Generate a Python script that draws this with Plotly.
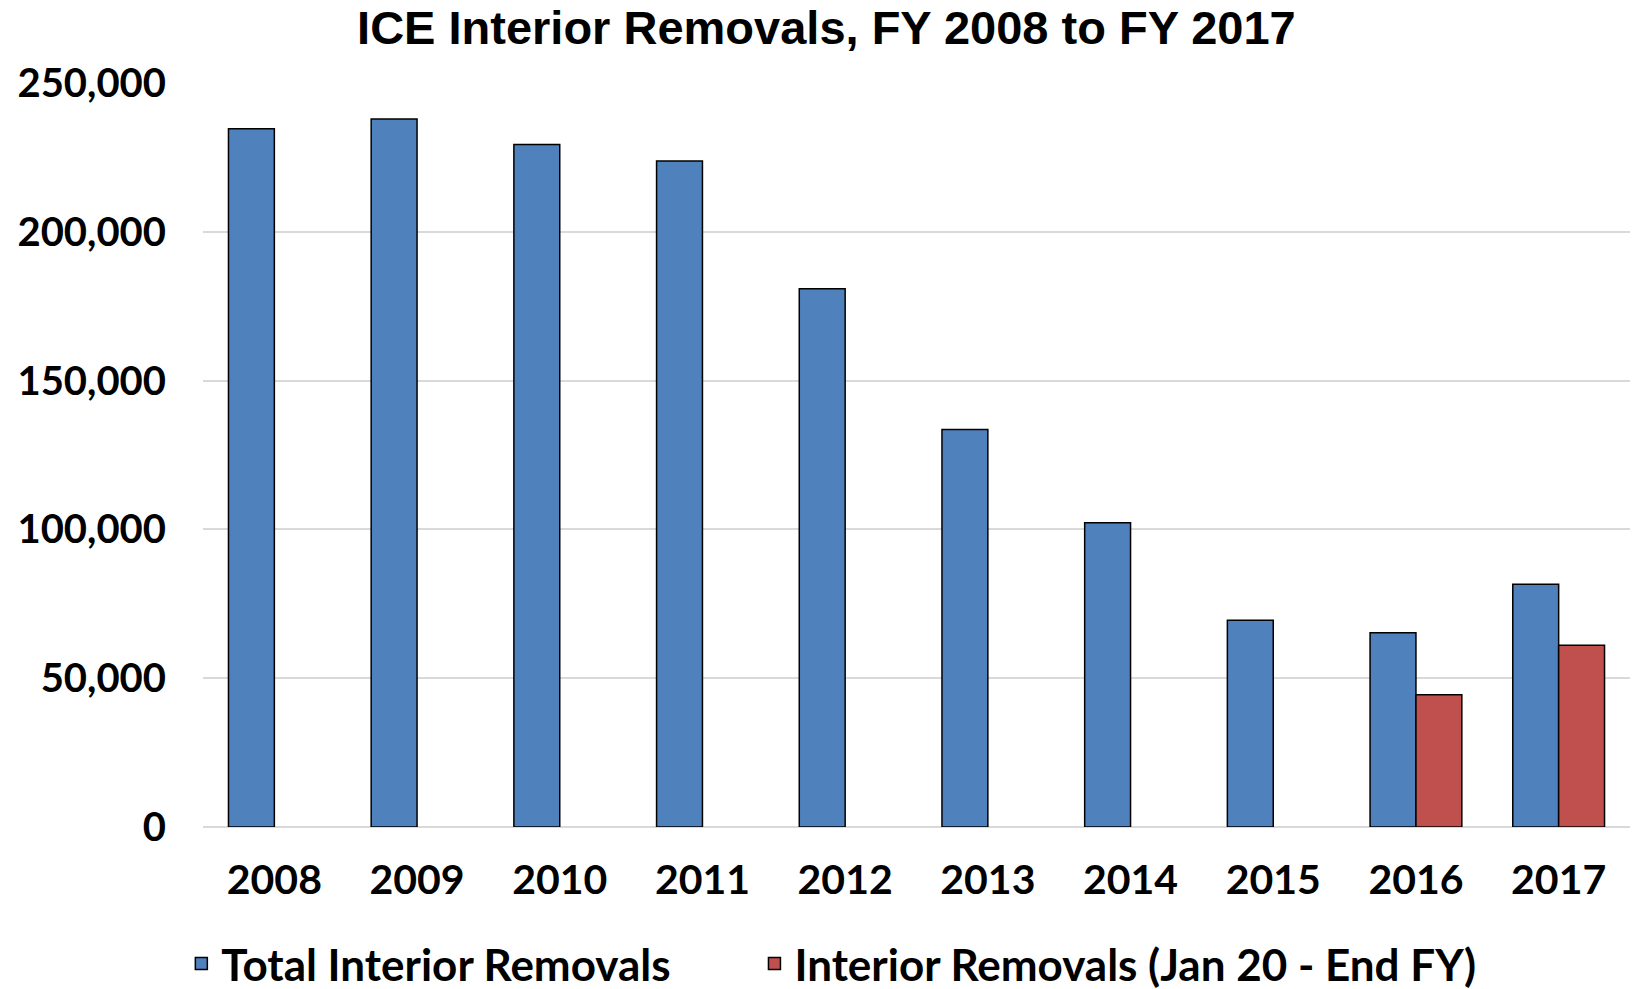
import plotly.graph_objects as go

years = ["2008", "2009", "2010", "2011", "2012", "2013", "2014", "2015", "2016", "2017"]
total_removals = [234600, 237900, 229300, 223800, 180900, 133600, 102200, 69500, 65300, 81600]
jan20_removals = [None, None, None, None, None, None, None, None, 44400, 61100]
y_ticks = [0, 50000, 100000, 150000, 200000, 250000]
y_tick_text = ["0", "50,000", "100,000", "150,000", "200,000", "250,000"]

FONT = "Lato"
TITLE_FONT = "Liberation Sans"
NB = "\u00a0"

fig = go.Figure()
fig.add_trace(go.Bar(
    x=years, y=total_removals, name="<b>Total Interior Removals</b>" + NB * 7,
    marker=dict(color="#4F81BD", line=dict(color="#000000", width=1.5)),
))
fig.add_trace(go.Bar(
    x=years, y=jan20_removals, name="<b>Interior Removals (Jan 20 - End FY)</b>",
    marker=dict(color="#C0504D", line=dict(color="#000000", width=1.5)),
))

fig.update_layout(
    width=1632, height=989,
    paper_bgcolor="white", plot_bgcolor="white",
    barmode="group", bargap=0.357, bargroupgap=0,
    margin=dict(l=203, r=2, t=83, b=162, autoexpand=False),
    title=dict(text="<b>ICE Interior Removals, FY 2008 to FY 2017</b>",
               x=0.5064, xref="container", xanchor="center",
               y=0.9883, yref="container", yanchor="top",
               font=dict(family=TITLE_FONT, size=47, color="black")),
    font=dict(family=FONT, color="black"),
    showlegend=True,
    legend=dict(orientation="h", xref="container", yref="paper",
                x=0.5094, xanchor="center", y=-0.184, yanchor="middle",
                font=dict(family=FONT, size=44, color="black"),
                itemwidth=30, traceorder="normal"),
    xaxis=dict(type="category", showgrid=False, showline=False, zeroline=False,
               tickfont=dict(family=FONT, size=41, color="black"),
               ticklabelstandoff=25, tickprefix="<b>", ticksuffix="</b>"),
    yaxis=dict(range=[0, 250000], tickvals=y_ticks,
               ticktext=["<b>" + t + "</b>" for t in y_tick_text],
               showgrid=True, gridcolor="#d9d9d9", gridwidth=2,
               zeroline=True, zerolinecolor="#d9d9d9", zerolinewidth=2,
               showline=False,
               tickfont=dict(family=FONT, size=40, color="black"),
               ticklabelstandoff=36),
)

fig.write_html(
    "out.html",
    config={"displayModeBar": False},
    post_script="document.body.style.margin='0';document.body.style.overflow='hidden';",
)
